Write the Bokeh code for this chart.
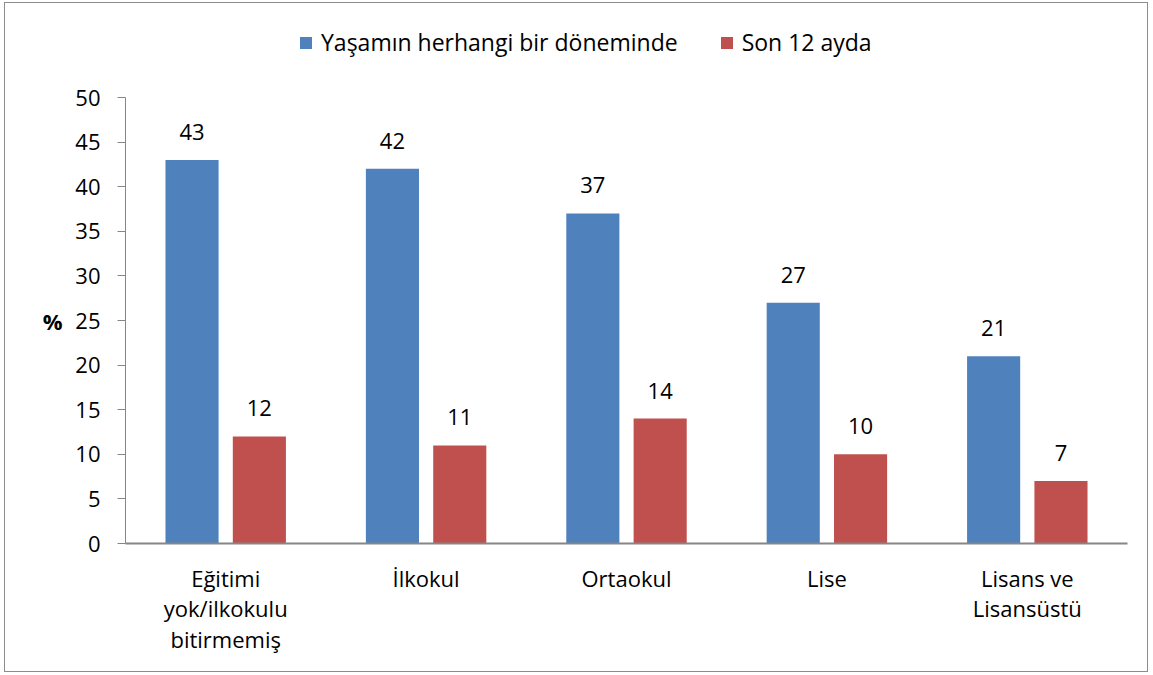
from bokeh.plotting import figure
from bokeh.models import (ColumnDataSource, LabelSet, Legend, LegendItem, FactorRange,
                          Range1d, LinearAxis, FixedTicker)
from bokeh.transform import dodge
from bokeh.core.properties import value
from bokeh.embed import file_html
from bokeh.resources import INLINE

categories = ["Eğitimi\nyok/ilkokulu\nbitirmemiş", "İlkokul", "Ortaokul", "Lise", "Lisans ve\nLisansüstü"]
lifetime = [43, 42, 37, 27, 21]
last12 = [12, 11, 14, 10, 7]
series_names = ["Yaşamın herhangi bir döneminde", "Son 12 ayda"]
y_ticks = [0, 5, 10, 15, 20, 25, 30, 35, 40, 45, 50]
y_title = "%"

FONT = "Open Sans"
FS = "22px"
BLUE = "#4F81BD"
RED = "#C0504D"
GRAY = "#868686"

W_FIG, H_FIG = 1144, 670
TOP, BOTTOM = 14, 130
AXIS_TOP = 94  # pixel where y=50 sits
frame_h = H_FIG - TOP - BOTTOM
y_end = 50 * frame_h / (H_FIG - BOTTOM - AXIS_TOP)

src = ColumnDataSource(dict(cat=categories, a=lifetime, b=last12,
                            la=[str(v) for v in lifetime], lb=[str(v) for v in last12]))

p = figure(x_range=FactorRange(*categories), y_range=Range1d(0, y_end),
           width=W_FIG, height=H_FIG, output_backend="svg", toolbar_location=None,
           min_border_left=120, min_border_right=22, min_border_top=TOP, min_border_bottom=BOTTOM)
p.styles = {"border": "1px solid #8c8c8c", "margin-left": "4px", "margin-top": "2px"}
p.outline_line_color = None
p.xgrid.grid_line_color = None
p.ygrid.grid_line_color = None
p.x_range.range_padding = 0

W = 0.265
D = 0.168
ra = p.vbar(x=dodge("cat", -D, range=p.x_range), top="a", width=W, source=src,
            fill_color=BLUE, line_color=None)
rb = p.vbar(x=dodge("cat", D, range=p.x_range), top="b", width=W, source=src,
            fill_color=RED, line_color=None)

for col, off, top in (("la", -D, "a"), ("lb", D, "b")):
    ls = LabelSet(x=dodge("cat", off, range=p.x_range), y=top,
                  text=col, source=src, text_align="center", text_baseline="alphabetic",
                  y_offset=20, text_font=value(FONT), text_font_size=value(FS),
                  text_color="#000000")
    p.add_layout(ls)

# axes
p.yaxis.ticker = y_ticks
p.yaxis.bounds = (0, 50)
p.yaxis.axis_line_color = GRAY
p.yaxis.major_tick_line_color = GRAY
p.yaxis.major_tick_out = 8
p.yaxis.major_tick_in = 0
p.yaxis.minor_tick_line_color = None
p.yaxis.major_label_standoff = 17
p.yaxis.major_label_text_font = FONT
p.yaxis.major_label_text_font_size = FS
p.yaxis.major_label_text_color = "#000000"

p.xaxis.axis_line_color = GRAY
p.xaxis.axis_line_width = 2
p.xaxis.major_tick_line_color = None
p.xaxis.minor_tick_line_color = None
p.xaxis.major_tick_out = 0
p.xaxis.major_label_standoff = 19
p.xaxis.major_label_text_font = FONT
p.xaxis.major_label_text_font_size = FS
p.xaxis.major_label_text_color = "#000000"
p.xaxis.major_label_text_line_height = 1.02

# "%" title as an extra left axis with a single overridden label
pax = LinearAxis(ticker=FixedTicker(ticks=[25]), major_label_overrides={25: y_title},
                 axis_line_color=None, major_tick_line_color=None, minor_tick_line_color=None,
                 major_tick_out=0, major_tick_in=0,
                 major_label_standoff=10, major_label_text_font=FONT,
                 major_label_text_font_size="22px", major_label_text_font_style="bold",
                 major_label_text_color="#000000")
p.add_layout(pax, "left")

legend = Legend(items=[LegendItem(label=series_names[0], renderers=[ra]),
                       LegendItem(label=series_names[1], renderers=[rb])],
                orientation="horizontal", location=(173, 485), padding=0, margin=0,
                spacing=41, label_standoff=8, glyph_width=15, glyph_height=15,
                label_text_font=FONT, label_text_font_size="23px", label_text_color="#000000",
                border_line_color=None, background_fill_alpha=0)
p.add_layout(legend, "center")

open("out.html", "w").write(file_html(p, INLINE))
